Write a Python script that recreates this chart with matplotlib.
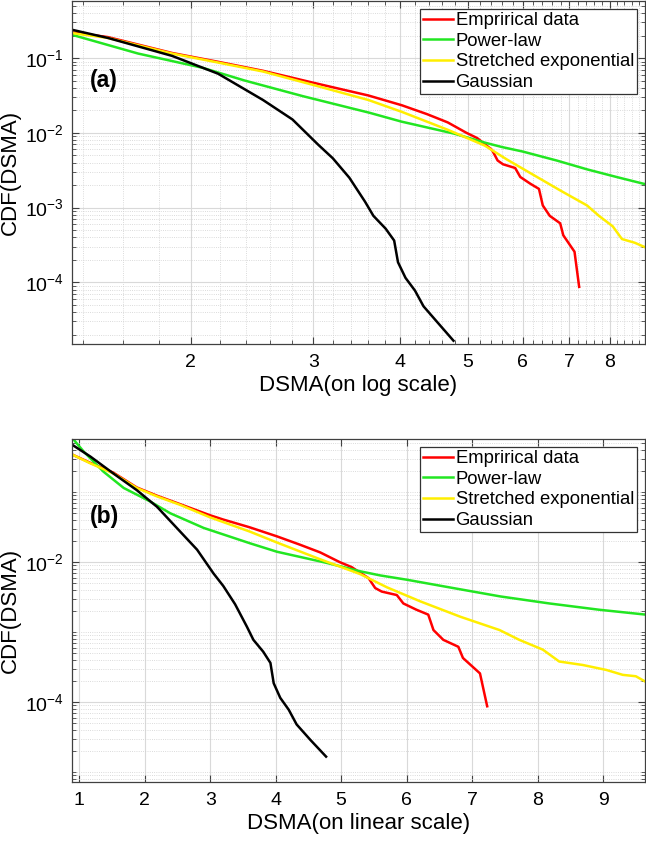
import numpy as np
from matplotlib import pyplot as plt
from matplotlib import ticker

plt.rcParams['font.family'] = ['Liberation Sans', 'DejaVu Sans']
plt.rcParams['mathtext.default'] = 'regular'
plt.rcParams['axes.unicode_minus'] = False

# empirical CDF (red)
emp_x = [0.89, 1.17, 1.52, 1.88, 2.19, 2.54, 3.0, 3.2, 3.6, 4.02, 4.37, 4.68,
         4.98, 5.16, 5.29, 5.42, 5.52, 5.62, 5.85, 5.95, 6.15, 6.33, 6.41,
         6.56, 6.79, 6.86, 7.12, 7.23]
emp_y = [0.347, 0.263, 0.191, 0.117, 0.0891, 0.0676, 0.0468, 0.0407, 0.0316,
         0.0234, 0.0178, 0.0138, 0.0100, 0.00851, 0.00708, 0.00589, 0.00427,
         0.00380, 0.00339, 0.00257, 0.00209, 0.00178, 0.00107, 0.000776,
         0.000617, 0.000427, 0.000257, 0.0000871]

# power-law fit (green)
pl_x = [0.89, 1.07, 1.37, 1.68, 2.08, 2.39, 2.90, 3.61, 4.02, 4.78, 5.29,
        5.60, 6.0, 6.71, 7.43, 8.18, 8.94, 9.65]
pl_y = [0.603, 0.380, 0.197, 0.115, 0.0741, 0.0501, 0.0309, 0.0186, 0.0141,
        0.00977, 0.00741, 0.00646, 0.00562, 0.00427, 0.00324, 0.00257,
        0.00209, 0.00178]

# stretched exponential fit (yellow)
se_x = [0.89, 1.17, 1.52, 1.88, 2.19, 2.54, 3.0, 3.6, 4.02, 4.68, 5.29, 5.70,
        6.21, 6.82, 7.42, 7.72, 8.08, 8.33, 8.69, 9.05, 9.30, 9.50, 9.65]
se_y = [0.347, 0.259, 0.186, 0.115, 0.0871, 0.0661, 0.0437, 0.0275, 0.0191,
        0.0110, 0.00676, 0.00437, 0.00275, 0.00166, 0.00107, 0.000776,
        0.000562, 0.000380, 0.000339, 0.000288, 0.000245, 0.000234, 0.000195]

# gaussian fit (black)
ga_x = [0.89, 1.17, 1.52, 1.88, 2.19, 2.54, 2.80, 3.05, 3.20, 3.38, 3.56,
        3.66, 3.81, 3.92, 3.97, 4.07, 4.20, 4.32, 4.53, 4.77]
ga_y = [0.479, 0.324, 0.186, 0.107, 0.0617, 0.0275, 0.0151, 0.00692, 0.00457,
        0.00251, 0.00120, 0.000776, 0.000525, 0.000363, 0.000186, 0.000115,
        0.0000776, 0.0000479, 0.0000288, 0.0000166]

series = [
    ("Emprirical data", emp_x, emp_y, "#ff0000"),
    ("Power-law", pl_x, pl_y, "#22e622"),
    ("Stretched exponential", se_x, se_y, "#ffee00"),
    ("Gaussian", ga_x, ga_y, "#000000"),
]

FRAME = "#404040"


def StyleAxes(ax):
    for s in ax.spines.values():
        s.set_color(FRAME)
        s.set_linewidth(0.9)
    ax.tick_params(which="both", direction="in", top=True, right=True,
                   colors=FRAME, labelcolor="black", labelsize=14)
    ax.tick_params(which="major", length=5)
    ax.tick_params(which="minor", length=3)
    ax.tick_params(axis="y", which="both", pad=6)
    ax.tick_params(axis="x", which="both", pad=7)
    ax.grid(True, which="major", color="#d9d9d9", linewidth=0.8, linestyle="-")
    ax.grid(True, which="minor", color="#cfcfcf", linewidth=0.6, linestyle=":")
    ax.set_axisbelow(True)


def DrawCurves(ax):
    for name, x, y, c in series:
        ax.plot(x, y, color=c, linewidth=1.8, label=name)
    leg = ax.legend(loc="upper right", fontsize=13.3, handlelength=1.6,
                    handletextpad=0.15, borderpad=0.15, labelspacing=0.2,
                    fancybox=False, framealpha=1, borderaxespad=0.45)
    leg.get_frame().set_edgecolor("#333333")
    leg.get_frame().set_linewidth(0.9)


fig = plt.figure(figsize=(6.46, 8.44), dpi=100)

# (a) log x
ax1 = fig.add_axes([72 / 646, 1 - 344 / 844, 573 / 646, 343 / 844])
DrawCurves(ax1)
ax1.set_xscale("log")
ax1.set_yscale("log")
ax1.set_xlim(1.35, 8.99)
ax1.set_ylim(1.5e-5, 0.58)
ax1.xaxis.set_major_locator(ticker.FixedLocator([2, 3, 4, 5, 6, 7, 8]))
ax1.xaxis.set_major_formatter(ticker.FuncFormatter(lambda v, p: f"{v:g}"))
ax1.xaxis.set_minor_locator(ticker.FixedLocator(np.arange(1.4, 9.01, 0.2)))
ax1.xaxis.set_minor_formatter(ticker.NullFormatter())
ax1.yaxis.set_major_locator(ticker.LogLocator(base=10, numticks=20))
ax1.yaxis.set_minor_locator(ticker.LogLocator(base=10, subs=np.arange(2, 10), numticks=20))
ax1.yaxis.set_major_formatter(ticker.FuncFormatter(lambda v, p: "$10^{%d}$" % round(np.log10(v))))
ax1.yaxis.set_minor_formatter(ticker.NullFormatter())
StyleAxes(ax1)
ax1.set_xlabel("DSMA(on log scale)", fontsize=16, labelpad=3)
ax1.set_ylabel("CDF(DSMA)", fontsize=16, labelpad=3)
ax1.text(0.031, 0.768, "(a)", transform=ax1.transAxes, fontsize=16.5,
         fontweight="bold", va="center")

# (b) linear x
ax2 = fig.add_axes([72 / 646, 1 - 782 / 844, 573 / 646, 343 / 844])
DrawCurves(ax2)
ax2.set_yscale("log")
ax2.set_xlim(0.89, 9.64)
ax2.set_ylim(7.2e-6, 0.577)
ax2.xaxis.set_major_locator(ticker.MultipleLocator(1))
ax2.yaxis.set_major_locator(ticker.FixedLocator([1e-6, 1e-4, 1e-2, 1]))
ax2.yaxis.set_minor_locator(ticker.LogLocator(base=10, subs=np.arange(1, 10), numticks=30))
ax2.yaxis.set_major_formatter(ticker.FuncFormatter(lambda v, p: "$10^{%d}$" % round(np.log10(v))))
ax2.yaxis.set_minor_formatter(ticker.NullFormatter())
StyleAxes(ax2)
ax2.set_xlabel("DSMA(on linear scale)", fontsize=16, labelpad=3)
ax2.set_ylabel("CDF(DSMA)", fontsize=16, labelpad=3)
ax2.text(0.031, 0.773, "(b)", transform=ax2.transAxes, fontsize=16.5,
         fontweight="bold", va="center")

fig.savefig("out.png", dpi=100)
